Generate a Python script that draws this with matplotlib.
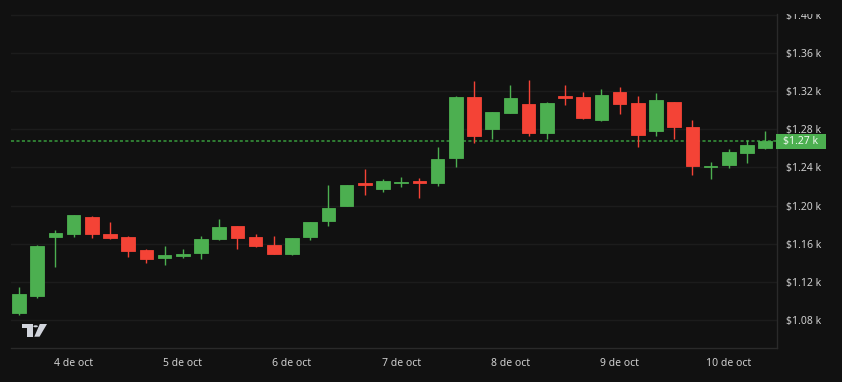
import matplotlib
matplotlib.use("Agg")
import matplotlib.pyplot as plt
import pandas as pd
from matplotlib.patches import Rectangle, Polygon, Circle
from matplotlib.transforms import Bbox, TransformedBbox, blended_transform_factory

plt.rcParams['font.family'] = ['Noto Sans', 'DejaVu Sans']

# 4h candles, 3 oct 12:00 -> 10 oct 16:00
times = pd.date_range('2024-10-03 12:00', periods=42, freq='4h')
opens = [1087.7, 1105.2, 1166.7, 1170.5, 1188.0, 1170.1, 1166.7, 1153.4, 1145.0, 1146.8,
         1150.5, 1164.6, 1178.5, 1167.3, 1158.9, 1149.5, 1166.7, 1183.4, 1199.5, 1223.9,
         1217.3, 1223.5, 1225.7, 1223.3, 1249.5, 1313.4, 1280.5, 1297.3, 1306.7, 1275.7,
         1314.4, 1313.4, 1289.6, 1319.0, 1307.4, 1278.4, 1308.5, 1282.0, 1240.0, 1242.8,
         1255.4, 1260.7]
highs = [1114.6, 1158.5, 1174.3, 1190.5, 1189.0, 1182.7, 1168.0, 1154.0, 1157.2, 1154.4,
         1168.4, 1186.2, 1179.0, 1170.1, 1168.4, 1166.0, 1183.0, 1221.2, 1222.0, 1238.3,
         1227.8, 1229.6, 1228.8, 1261.3, 1314.5, 1330.2, 1298.5, 1326.3, 1331.2, 1308.5,
         1326.3, 1319.0, 1322.1, 1323.9, 1314.4, 1317.9, 1309.0, 1289.6, 1245.3, 1258.9,
         1269.0, 1277.8]
lows = [1085.6, 1103.4, 1135.6, 1166.7, 1165.6, 1165.0, 1145.7, 1140.0, 1137.3, 1145.0,
        1144.0, 1164.0, 1154.4, 1156.5, 1149.0, 1148.1, 1163.9, 1178.5, 1199.0, 1211.0,
        1214.5, 1219.4, 1208.2, 1220.1, 1240.0, 1265.8, 1270.0, 1297.0, 1273.2, 1269.4,
        1305.6, 1290.7, 1289.0, 1295.6, 1261.3, 1273.2, 1269.7, 1232.3, 1228.1, 1239.6,
        1244.9, 1259.6]
closes = [1107.3, 1157.9, 1171.2, 1190.0, 1170.5, 1165.6, 1152.6, 1144.0, 1147.8, 1149.5,
          1164.6, 1177.8, 1165.6, 1157.2, 1149.5, 1165.6, 1182.7, 1197.4, 1221.5, 1221.2,
          1225.7, 1224.8, 1223.9, 1248.4, 1314.0, 1273.2, 1298.0, 1312.3, 1275.7, 1307.7,
          1312.3, 1292.0, 1316.1, 1306.1, 1273.9, 1310.3, 1282.6, 1241.1, 1241.7, 1256.1,
          1263.4, 1267.3]
price_ticks = [1080, 1120, 1160, 1200, 1240, 1280, 1320, 1360, 1400]

BG = '#111111'
UP = '#4caf50'
DOWN = '#f44336'
GRID = '#1c1c1c'
TXT = '#cfcfcf'

fig = plt.figure(figsize=(8.42, 3.82), dpi=100, facecolor=BG)
ax = fig.add_axes([11 / 842, 1 - 348 / 382, 766 / 842, 334 / 382], facecolor=BG)

x = list(range(len(times)))
colors = [UP if c >= o else DOWN for o, c in zip(opens, closes)]
bodies = [c - o if abs(c - o) > 1.2 else 1.2 for o, c in zip(opens, closes)]
bottoms = [o if abs(c - o) > 1.2 else (o + c) / 2 - 0.6 for o, c in zip(opens, closes)]

ax.vlines(x, lows, highs, colors=colors, linewidth=1.0, zorder=2)
ax.bar(x, bodies, bottom=bottoms, width=0.74, color=colors, edgecolor=colors,
       linewidth=0.6, zorder=3)

# last price line + label
last = closes[-1]
ax.axhline(last, color='#2f7d33', linestyle=(0, (1.6, 1.2)), linewidth=1.4, zorder=1)
tr = blended_transform_factory(fig.transFigure, ax.transData)
fig.add_artist(Rectangle((776 / 842, last - 7.8), 50 / 842, 15.6, transform=tr,
                         facecolor=UP, edgecolor='none', clip_on=False))
fig.text(801 / 842, last, f"${last / 1000:.2f} k", transform=tr, ha='center', va='center',
         color='#eef7ee', fontsize=7.5, fontweight='medium')

ax.set_xlim(-0.44, 41.65)
ax.set_ylim(1050.7, 1400.7)

ax.set_yticks(price_ticks)
ax.set_yticklabels([f"${p / 1000:.2f} k" for p in price_ticks], fontweight='medium')
ax.yaxis.tick_right()
ax.tick_params(axis='y', length=0, pad=6.5, labelsize=7.5, labelcolor=TXT)
ax.grid(axis='y', color=GRID, linewidth=1.0, zorder=0)

day_idx = [i for i, t in enumerate(times) if t.hour == 0]
ax.set_xticks(day_idx)
ax.set_xticklabels([f"{times[i].day} de oct" for i in day_idx], fontweight='medium')
ax.tick_params(axis='x', length=0, pad=7, labelsize=7.5, labelcolor=TXT)

for s in ['left', 'top']:
    ax.spines[s].set_visible(False)
for s in ['right', 'bottom']:
    ax.spines[s].set_color('#2a2a2a')
    ax.spines[s].set_linewidth(1.0)

# the top price label is cut by the pane edge
clip = TransformedBbox(Bbox([[0, -1], [1, 1]]),
                       blended_transform_factory(fig.transFigure, ax.transAxes))
top_tick = ax.yaxis.get_major_ticks()[-1]
top_tick.label2.set_clip_on(True)
top_tick.label2.set_clip_box(clip)

# tradingview logo
def px(xp, yp):
    return (xp / 842, 1 - yp / 382)

logo = '#d1d4dc'
fig.add_artist(Polygon([px(21.7, 324), px(32.7, 324), px(32.7, 336.7), px(27.3, 336.7),
                        px(27.3, 328.3), px(21.7, 328.3)], closed=True,
                       transform=fig.transFigure, facecolor=logo, edgecolor='none'))
fig.add_artist(Circle(px(35.6, 326.3), 2.3 / 842, transform=fig.transFigure,
                      facecolor=logo, edgecolor='none'))
fig.add_artist(Polygon([px(39.8, 324), px(47, 324), px(39.5, 336.7), px(34.3, 336.7)],
                       closed=True, transform=fig.transFigure, facecolor=logo,
                       edgecolor='none'))

fig.savefig('out.png', dpi=100, facecolor=BG)
